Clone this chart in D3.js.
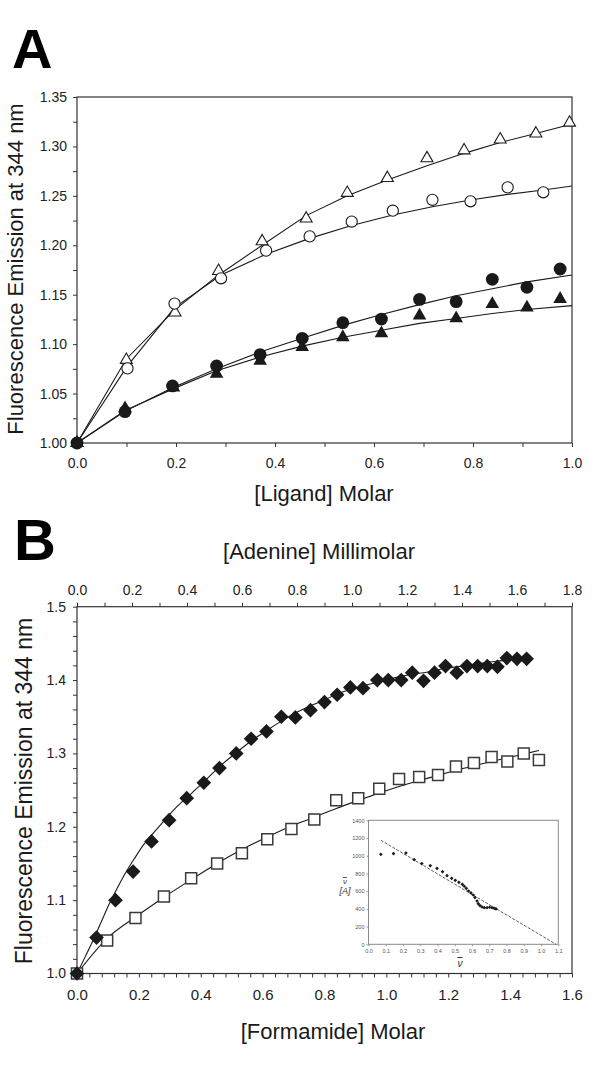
<!DOCTYPE html>
<html><head><meta charset="utf-8">
<script src="https://cdn.jsdelivr.net/npm/d3@7/dist/d3.min.js"></script>
<style>
body{margin:0;background:#fff}
svg text{font-family:"Liberation Sans",Arial,sans-serif}
</style>
</head><body>
<svg id="c" width="600" height="1091"></svg>
<script>
// ---------- Panel A data ----------
const aXTicks = [0, 0.2, 0.4, 0.6, 0.8, 1.0];
const aXMinor = [0.1, 0.3, 0.5, 0.7, 0.9];
const aYTicks = [1.00, 1.05, 1.10, 1.15, 1.20, 1.25, 1.30, 1.35];
const aYMinor = [1.025, 1.075, 1.125, 1.175, 1.225, 1.275, 1.325];

const openTri = [[0,1.0],[0.0996,1.084],[0.198,1.132],[0.286,1.174],[0.374,1.204],[0.463,1.227],[0.546,1.253],[0.627,1.268],[0.707,1.288],[0.782,1.296],[0.855,1.307],[0.927,1.313],[0.995,1.324]];
const openTriFit = [[0,1.0],[0.0996,1.085],[0.198,1.135],[0.286,1.170],[0.374,1.200],[0.463,1.230],[0.546,1.250],[0.627,1.266],[0.707,1.2805],[0.782,1.293],[0.855,1.304],[0.927,1.313],[1.0,1.3227]];
const openCirc = [[0,1.0],[0.102,1.0755],[0.197,1.141],[0.291,1.1666],[0.382,1.1946],[0.470,1.209],[0.555,1.224],[0.638,1.235],[0.718,1.246],[0.795,1.2445],[0.870,1.2586],[0.942,1.2536]];
const openCircFit = [[0,1.0],[0.102,1.078],[0.197,1.137],[0.291,1.170],[0.382,1.191],[0.470,1.207],[0.555,1.220],[0.638,1.2306],[0.718,1.239],[0.795,1.2458],[0.870,1.2515],[0.942,1.256],[1.0,1.260]];
const filledCirc = [[0,1.0],[0.097,1.0317],[0.193,1.0577],[0.282,1.0779],[0.370,1.0894],[0.455,1.1059],[0.537,1.1217],[0.615,1.1254],[0.692,1.1453],[0.766,1.143],[0.839,1.1656],[0.909,1.1575],[0.976,1.176]];
const filledCircFit = [[0,1.0],[0.097,1.032],[0.193,1.056],[0.282,1.075],[0.370,1.092],[0.455,1.106],[0.537,1.119],[0.615,1.130],[0.692,1.140],[0.766,1.149],[0.839,1.156],[0.909,1.163],[1.0,1.170]];
const filledTri = [[0,1.0],[0.097,1.035],[0.195,1.056],[0.282,1.070],[0.370,1.083],[0.455,1.097],[0.537,1.107],[0.615,1.111],[0.692,1.129],[0.766,1.126],[0.839,1.1406],[0.909,1.137],[0.976,1.1457]];
const filledTriFit = [[0,1.0],[0.097,1.033],[0.195,1.055],[0.282,1.073],[0.370,1.087],[0.455,1.098],[0.537,1.107],[0.615,1.114],[0.692,1.121],[0.766,1.126],[0.839,1.131],[0.909,1.135],[1.0,1.139]];

// ---------- Panel B data ----------
const bBotTicks = [0, 0.2, 0.4, 0.6, 0.8, 1.0, 1.2, 1.4, 1.6];
const bBotMinor = [0.04,0.08,0.12,0.16,0.24,0.28,0.32,0.36,0.44,0.48,0.52,0.56,0.64,0.68,0.72,0.76,0.84,0.88,0.92,0.96,1.04,1.08,1.12,1.16,1.24,1.28,1.32,1.36,1.44,1.48,1.52,1.56];
const bTopTicks = [0, 0.2, 0.4, 0.6, 0.8, 1.0, 1.2, 1.4, 1.6, 1.8];
const bTopMinor = [0.1, 0.3, 0.5, 0.7, 0.9, 1.1, 1.3, 1.5, 1.7];
const bYTicks = [1.0, 1.1, 1.2, 1.3, 1.4, 1.5];
const bYMinor = [1.02,1.04,1.06,1.08,1.12,1.14,1.16,1.18,1.22,1.24,1.26,1.28,1.32,1.34,1.36,1.38,1.42,1.44,1.46,1.48];

// adenine (top axis, mM) - filled diamonds
const adenine = [[0,1.0],[0.071,1.049],[0.140,1.100],[0.204,1.139],[0.271,1.180],[0.335,1.209],[0.399,1.239],[0.461,1.260],[0.518,1.280],[0.579,1.300],[0.633,1.320],[0.689,1.330],[0.743,1.350],[0.794,1.349],[0.849,1.359],[0.900,1.370],[0.946,1.380],[0.994,1.390],[1.040,1.389],[1.092,1.400],[1.132,1.400],[1.179,1.400],[1.219,1.410],[1.260,1.399],[1.300,1.410],[1.340,1.419],[1.381,1.410],[1.418,1.419],[1.457,1.419],[1.492,1.419],[1.529,1.418],[1.563,1.430],[1.600,1.429],[1.635,1.429]];
const adenineFit = [[0,1.0],[0.03,1.023],[0.0594,1.046],[0.09,1.072],[0.12,1.097],[0.15,1.119],[0.181,1.140],[0.211,1.158],[0.241,1.175],[0.272,1.189],[0.302,1.202],[0.3625,1.227],[0.423,1.248],[0.461,1.261],[0.518,1.282],[0.579,1.301],[0.633,1.317],[0.689,1.331],[0.743,1.344],[0.794,1.355],[0.849,1.365],[0.900,1.373],[0.946,1.381],[0.994,1.387],[1.040,1.392],[1.092,1.397],[1.132,1.401],[1.179,1.405],[1.219,1.408],[1.260,1.410],[1.300,1.413],[1.340,1.416],[1.381,1.418],[1.418,1.420],[1.457,1.422],[1.492,1.424],[1.529,1.426],[1.563,1.427],[1.600,1.429],[1.65,1.431]];
// formamide (bottom axis, M) - open squares
const formamide = [[0,1.0],[0.0975,1.045],[0.189,1.0757],[0.281,1.105],[0.369,1.130],[0.453,1.150],[0.533,1.164],[0.615,1.183],[0.693,1.197],[0.767,1.210],[0.838,1.236],[0.909,1.239],[0.977,1.252],[1.041,1.265],[1.106,1.268],[1.167,1.2705],[1.225,1.282],[1.283,1.287],[1.340,1.295],[1.391,1.289],[1.444,1.300],[1.493,1.291]];
const formamideFit = [[0,1.0],[0.0975,1.048],[0.189,1.077],[0.281,1.104],[0.369,1.128],[0.453,1.150],[0.533,1.169],[0.615,1.186],[0.693,1.201],[0.767,1.213],[0.838,1.225],[0.909,1.236],[0.977,1.246],[1.041,1.255],[1.106,1.263],[1.167,1.270],[1.225,1.277],[1.283,1.283],[1.340,1.289],[1.391,1.294],[1.444,1.299],[1.493,1.304]];

// ---------- Inset (Scatchard) data ----------
const insXTicks = [0,0.1,0.2,0.3,0.4,0.5,0.6,0.7,0.8,0.9,1.0,1.1];
const insYTicks = [0,200,400,600,800,1000,1200,1400];
const scatchard = [[0.0716,1016],[0.145,1024],[0.217,1031],[0.265,956],[0.309,911],[0.358,888],[0.397,858],[0.429,820],[0.455,775],[0.482,745],[0.503,722],[0.524,700],[0.544,677],[0.555,655],[0.567,632],[0.580,602],[0.594,580],[0.607,557],[0.617,527],[0.629,489],[0.636,459],[0.646,437],[0.658,421],[0.671,414],[0.687,414],[0.702,418],[0.716,414],[0.729,406],[0.739,399]];
const scatchardFit = [[0.0716,1175],[1.087,0]];

// ---------- drawing ----------
const svg = d3.select("#c");
const FG = "#1a1a1a", AX = "#333";

function styleAxis(g, fs){
  g.select(".domain").remove();
  g.selectAll("line").attr("stroke", AX).attr("stroke-width", 1);
  g.selectAll("text").attr("font-size", fs).attr("fill", "#222").attr("font-family","Liberation Sans, Arial, sans-serif");
}
function addAxis(parent, gen, tr, fs){
  const g = parent.append("g").attr("transform", tr).call(gen);
  styleAxis(g, fs);
  return g;
}
const sym = (type, size) => d3.symbol().type(type).size(size)();

// ===== Panel A =====
const A = svg.append("g");
const ax = d3.scaleLinear([0, 1], [77, 572]);
const ay = d3.scaleLinear([1, 1.35], [443, 97]);

addAxis(A, d3.axisBottom(ax).tickValues(aXTicks).tickFormat(d3.format(".1f")).tickSize(4).tickPadding(11), "translate(0,443)", 14);
addAxis(A, d3.axisBottom(ax).tickValues(aXMinor).tickFormat("").tickSize(4), "translate(0,443)", 14);
addAxis(A, d3.axisLeft(ay).tickValues(aYTicks).tickFormat(d3.format(".2f")).tickSize(4).tickPadding(6), "translate(77,0)", 14);
addAxis(A, d3.axisLeft(ay).tickValues(aYMinor).tickFormat("").tickSize(4), "translate(77,0)", 14);
A.append("rect").attr("x", ax(0)).attr("y", ay(1.35)).attr("width", ax(1)-ax(0)).attr("height", ay(1)-ay(1.35))
  .attr("fill","none").attr("stroke", AX).attr("stroke-width", 1.2);

const lineA = d3.line().x(d => ax(d[0])).y(d => ay(d[1]));
[openTriFit, openCircFit, filledCircFit, filledTriFit].forEach(s =>
  A.append("path").attr("d", lineA(s)).attr("fill","none").attr("stroke", FG).attr("stroke-width", 1.1));

function markers(g, data, sx, sy, path, fill, stroke, sw, rot){
  g.append("g").selectAll("path").data(data).join("path")
    .attr("d", path)
    .attr("transform", d => `translate(${sx(d[0])},${sy(d[1])})` + (rot ? ` rotate(${rot})` : ""))
    .attr("fill", fill).attr("stroke", stroke).attr("stroke-width", sw);
}
markers(A, openTri, ax, ay, sym(d3.symbolTriangle, 62), "#fff", FG, 1.1);
markers(A, openCirc, ax, ay, sym(d3.symbolCircle, Math.PI*5.6*5.6), "#fff", FG, 1.1);
markers(A, filledTri, ax, ay, sym(d3.symbolTriangle, 80), FG, "none", 0);
markers(A, filledCirc, ax, ay, sym(d3.symbolCircle, Math.PI*6.4*6.4), FG, "none", 0);

A.append("text").text("A").attr("x", 12).attr("y", 68).attr("font-size", 56).attr("font-weight","bold").attr("fill","#000");
A.append("text").text("[Ligand] Molar").attr("x", 324).attr("y", 501).attr("text-anchor","middle").attr("font-size", 22).attr("fill", FG);
A.append("text").text("Fluorescence Emission at 344 nm").attr("transform","translate(23,269) rotate(-90)")
  .attr("text-anchor","middle").attr("font-size", 22).attr("fill", FG);

// ===== Panel B =====
const B = svg.append("g");
const bx = d3.scaleLinear([0, 1.6], [77, 572]);
const bxTop = d3.scaleLinear([0, 1.8], [77, 572]);
const by = d3.scaleLinear([1, 1.5], [973.5, 606.7]);

addAxis(B, d3.axisBottom(bx).tickValues(bBotTicks).tickFormat(d3.format(".1f")).tickSize(4).tickPadding(12), "translate(0,973.5)", 15);
addAxis(B, d3.axisBottom(bx).tickValues(bBotMinor).tickFormat("").tickSize(4), "translate(0,973.5)", 15);
addAxis(B, d3.axisTop(bxTop).tickValues(bTopTicks).tickFormat(d3.format(".1f")).tickSize(4).tickPadding(8), "translate(0,606.7)", 14);
addAxis(B, d3.axisTop(bxTop).tickValues(bTopMinor).tickFormat("").tickSize(4), "translate(0,606.7)", 14);
addAxis(B, d3.axisLeft(by).tickValues(bYTicks).tickFormat(d3.format(".1f")).tickSize(4).tickPadding(7), "translate(77,0)", 14);
addAxis(B, d3.axisLeft(by).tickValues(bYMinor).tickFormat("").tickSize(4), "translate(77,0)", 14);
B.append("rect").attr("x", bx(0)).attr("y", by(1.5)).attr("width", bx(1.6)-bx(0)).attr("height", by(1)-by(1.5))
  .attr("fill","none").attr("stroke", AX).attr("stroke-width", 1.2);

const lineTop = d3.line().x(d => bxTop(d[0])).y(d => by(d[1])).curve(d3.curveMonotoneX);
const lineBot = d3.line().x(d => bx(d[0])).y(d => by(d[1])).curve(d3.curveMonotoneX);
B.append("path").attr("d", lineTop(adenineFit)).attr("fill","none").attr("stroke", FG).attr("stroke-width", 1.1);
B.append("path").attr("d", lineBot(formamideFit)).attr("fill","none").attr("stroke", FG).attr("stroke-width", 1.1);

markers(B, formamide, bx, by, sym(d3.symbolSquare, 11*11), "#fff", "#3a3a3a", 1.5);
markers(B, adenine, bxTop, by, sym(d3.symbolSquare, 10.4*10.4), FG, "none", 0, 45);

B.append("text").text("B").attr("x", 14).attr("y", 560).attr("font-size", 58).attr("font-weight","bold").attr("fill","#000");
B.append("text").text("[Adenine] Millimolar").attr("x", 319).attr("y", 559).attr("text-anchor","middle").attr("font-size", 22).attr("fill", FG);
B.append("text").text("[Formamide] Molar").attr("x", 333).attr("y", 1039).attr("text-anchor","middle").attr("font-size", 22).attr("fill", FG);
B.append("text").text("Fluorescence Emission at 344 nm").attr("transform","translate(32,791) rotate(-90)")
  .attr("text-anchor","middle").attr("font-size", 23).attr("fill", FG);

// ===== Inset =====
const I = svg.append("g");
const ix = d3.scaleLinear([0, 1.1], [368.5, 558.3]);
const iy = d3.scaleLinear([0, 1400], [944.3, 820.3]);
I.append("rect").attr("x", ix(0)).attr("y", iy(1400)).attr("width", ix(1.1)-ix(0)).attr("height", iy(0)-iy(1400))
  .attr("fill","#fff").attr("stroke","#8a8a8a").attr("stroke-width", 1);
function styleInset(g){
  g.select(".domain").remove();
  g.selectAll("line").attr("stroke","#888").attr("stroke-width",0.8);
  g.selectAll("text").attr("font-size",5.5).attr("fill","#555");
}
const gix = I.append("g").attr("transform",`translate(0,${iy(0)})`)
  .call(d3.axisBottom(ix).tickValues(insXTicks).tickFormat(d3.format(".1f")).tickSize(2).tickPadding(3));
styleInset(gix);
const giy = I.append("g").attr("transform",`translate(${ix(0)},0)`)
  .call(d3.axisLeft(iy).tickValues(insYTicks).tickFormat(d3.format("d")).tickSize(2).tickPadding(2));
styleInset(giy);

const lineI = d3.line().x(d => ix(d[0])).y(d => iy(d[1]));
I.append("path").attr("d", lineI(scatchardFit)).attr("fill","none").attr("stroke","#333")
  .attr("stroke-width",0.8).attr("stroke-dasharray","3,1.5");
markers(I, scatchard, ix, iy, sym(d3.symbolSquare, 2.6*2.6), FG, "none", 0, 45);

const serif = "Liberation Serif, DejaVu Serif, serif";
I.append("text").text("ν").attr("x", 345).attr("y", 884).attr("text-anchor","middle")
  .attr("font-family", serif).attr("font-style","italic").attr("font-size",8).attr("fill","#333")
  .style("text-decoration","overline");
I.append("text").text("[A]").attr("x", 345).attr("y", 894).attr("text-anchor","middle")
  .attr("font-family", serif).attr("font-style","italic").attr("font-size",9).attr("fill","#333");
I.append("text").text("ν").attr("x", 460).attr("y", 967).attr("text-anchor","middle")
  .attr("font-family", serif).attr("font-style","italic").attr("font-size",10).attr("fill","#333")
  .style("text-decoration","overline");
</script>
</body></html>
